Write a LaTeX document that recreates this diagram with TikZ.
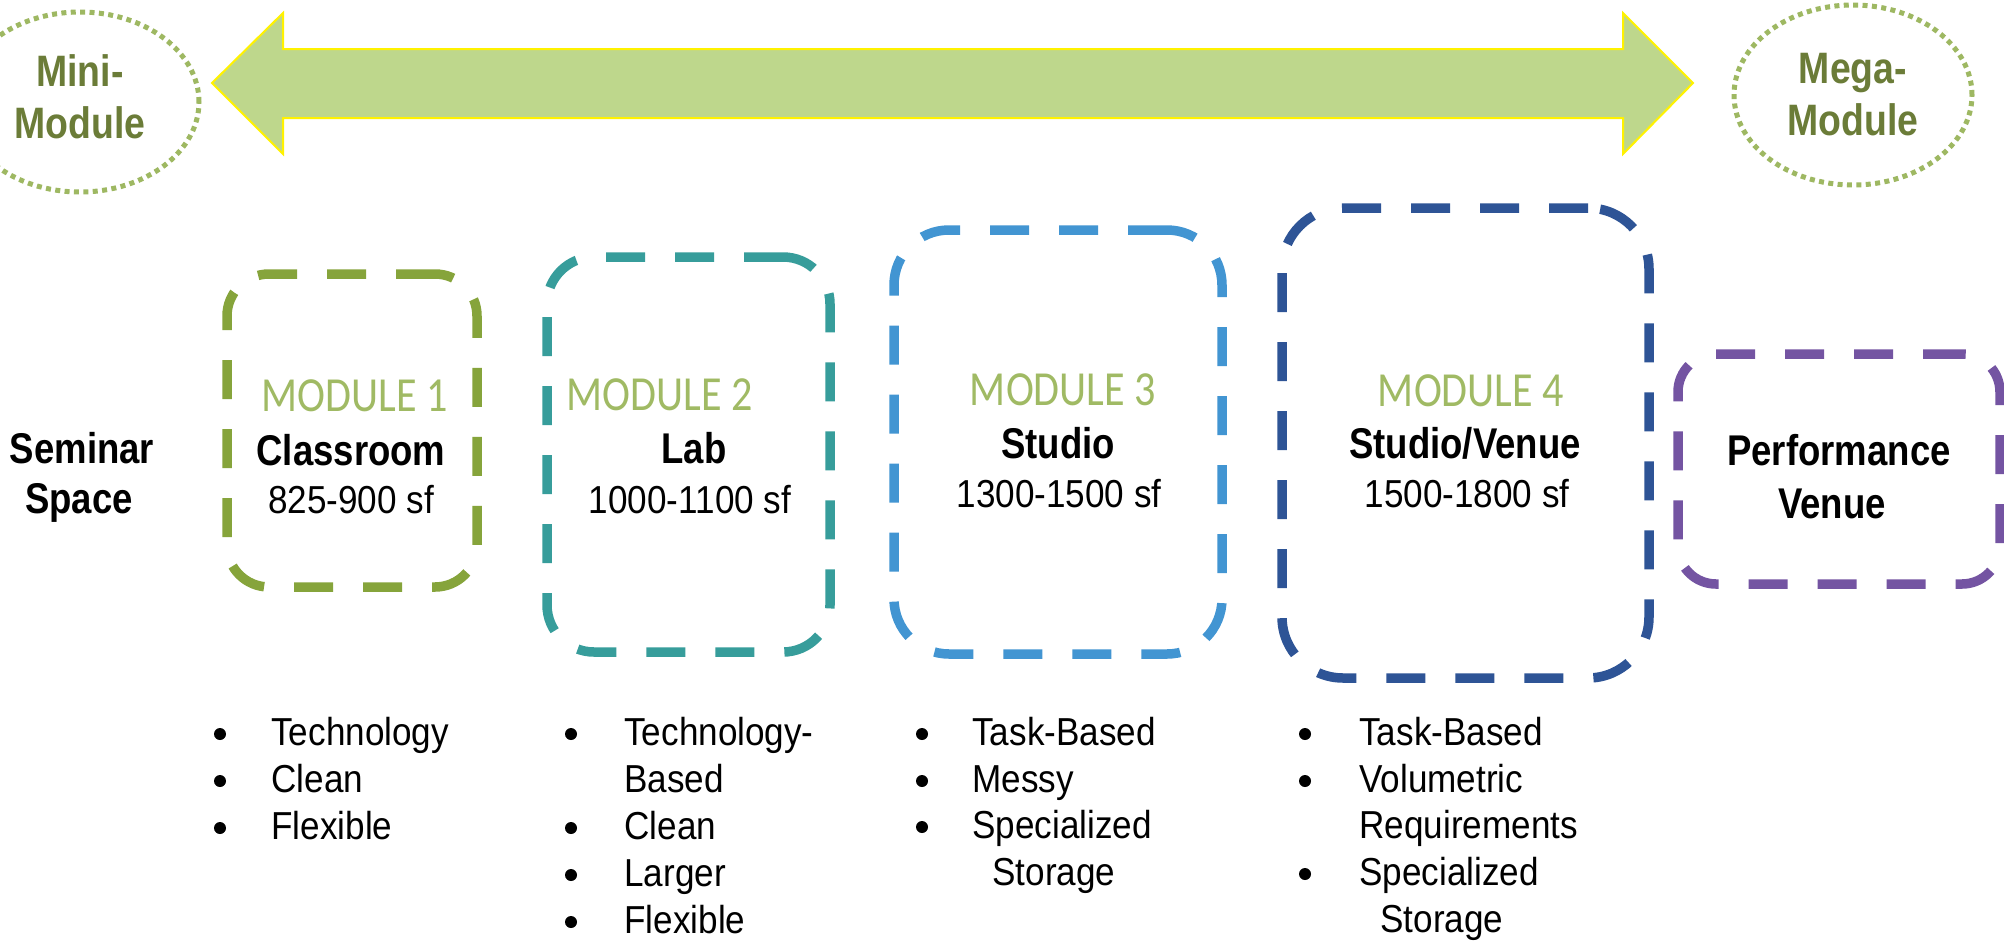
\documentclass[tikz,border=0pt]{standalone}
\usepackage{fontspec}
\usetikzlibrary{shapes.geometric}
\setmainfont{Liberation Sans}
\newfontfamily\regf[FakeStretch=0.9]{Liberation Sans}
\newfontfamily\bldf[FakeStretch=0.85]{Liberation Sans}
\newfontfamily\modf[FakeStretch=0.86]{Carlito}
\definecolor{arrowfill}{RGB}{190,215,140}
\definecolor{dotcol}{RGB}{158,184,98}
\definecolor{minitext}{RGB}{107,124,56}
\definecolor{modlabel}{RGB}{160,186,100}
\definecolor{cone}{RGB}{134,164,59}
\definecolor{ctwo}{RGB}{55,157,155}
\definecolor{cthree}{RGB}{66,149,210}
\definecolor{cfour}{RGB}{46,84,150}
\definecolor{cfive}{RGB}{116,84,162}
\tikzset{
  endcap/.style={ellipse, draw=dotcol, line width=2.5pt, dash pattern=on 2.5pt off 2.2pt, minimum width=119pt, minimum height=90pt, inner sep=0pt},
  endtext/.style={anchor=base, inner sep=0pt, text=minitext, font=\bldf\bfseries\fontsize{22}{26}\selectfont},
  modbox/.style={rectangle, draw=#1, line width=4.75pt, dash pattern=on 19.5pt off 15pt, inner sep=0pt},
  modlab/.style={anchor=base, inner sep=0pt, text=modlabel, font=\modf\fontsize{24.5}{28}\selectfont},
  title/.style={anchor=base, inner sep=0pt, font=\bldf\bfseries\fontsize{21.5}{25}\selectfont},
  area/.style={anchor=base, inner sep=0pt, font=\regf\fontsize{19.5}{23}\selectfont},
  bul/.style={circle, fill=black, inner sep=0pt, minimum size=6pt},
  item/.style={anchor=base west, inner sep=0pt, font=\regf\fontsize{19.5}{23}\selectfont},
}
\begin{document}
\begin{tikzpicture}[x=0.5pt,y=-0.5pt]
\clip (0,0) rectangle (2004,943);
\fill[white] (0,0) rectangle (2004,943);

% scale arrow
\draw[fill=arrowfill, draw=yellow, line width=1pt, line join=miter]
  (212,83) -- (283,13) -- (283,49) -- (1623,49) -- (1623,13) -- (1693,83)
  -- (1623,154) -- (1623,118) -- (283,118) -- (283,154) -- cycle;

% end ellipses
\node[endcap] (mini) at (80,102) {};
\node[endtext] (minia) at (80,86) {Mini-};
\node[endtext] (minib) at (80,138) {Module};
\node[endcap] (mega) at (1853,95) {};
\node[endtext] (megaa) at (1853,83) {Mega-};
\node[endtext] (megab) at (1853,135) {Module};

% seminar
\node[title] (sema) at (82,463) {Seminar};
\node[title] (semb) at (79,513) {Space};

% module boxes
\node[modbox=cone, minimum width=125pt, minimum height=156.5pt, rounded corners=21pt] (box1) at (352,430.5) {};
\node[modlab] (m1) at (355,411) {MODULE 1};
\node[title] (t1) at (351,465) {Classroom};
\node[area] (a1) at (351,513) {825-900 sf};

\node[modbox=ctwo, minimum width=141.5pt, minimum height=197.5pt, rounded corners=23.5pt] (box2) at (688.5,454.5) {};
\node[modlab] (m2) at (660,410) {MODULE 2};
\node[title] (t2) at (694,463) {Lab};
\node[area] (a2) at (690,513) {1000-1100 sf};

\node[modbox=cthree, minimum width=164pt, minimum height=212pt, rounded corners=27.5pt] (box3) at (1058,442) {};
\node[modlab] (m3) at (1063,405) {MODULE 3};
\node[title] (t3) at (1058,458) {Studio};
\node[area] (a3) at (1059,507) {1300-1500 sf};

\node[modbox=cfour, minimum width=183.5pt, minimum height=235pt, rounded corners=30.5pt] (box4) at (1465.5,443) {};
\node[modlab] (m4) at (1471,406) {MODULE 4};
\node[title] (t4) at (1465,458) {Studio/Venue};
\node[area] (a4) at (1467,507) {1500-1800 sf};

\node[modbox=cfive, minimum width=161pt, minimum height=115pt, rounded corners=19pt] (box5) at (1839,469) {};
\node[title] (t5a) at (1839,465) {Performance};
\node[title] (t5b) at (1832,518) {Venue};

% list 1
\node[bul] (b1a) at (220,734) {};
\node[item] (l1a) at (271,745) {Technology};
\node[bul] (b1b) at (220,781) {};
\node[item] (l1b) at (271,792) {Clean};
\node[bul] (b1c) at (220,828) {};
\node[item] (l1c) at (271,839) {Flexible};

% list 2
\node[bul] (b2a) at (571,734) {};
\node[item] (l2a) at (624,745) {Technology-};
\node[item] (l2b) at (624,792) {Based};
\node[bul] (b2c) at (571,828) {};
\node[item] (l2c) at (624,839) {Clean};
\node[bul] (b2d) at (571,875) {};
\node[item] (l2d) at (624,886) {Larger};
\node[bul] (b2e) at (571,922) {};
\node[item] (l2e) at (624,933) {Flexible};

% list 3
\node[bul] (b3a) at (922,734) {};
\node[item] (l3a) at (972,745) {Task-Based};
\node[bul] (b3b) at (922,781) {};
\node[item] (l3b) at (972,792) {Messy};
\node[bul] (b3c) at (922,827) {};
\node[item] (l3c) at (972,838) {Specialized};
\node[item] (l3d) at (992,885) {Storage};

% list 4
\node[bul] (b4a) at (1305,734) {};
\node[item] (l4a) at (1359,745) {Task-Based};
\node[bul] (b4b) at (1305,781) {};
\node[item] (l4b) at (1359,792) {Volumetric};
\node[item] (l4c) at (1359,838) {Requirements};
\node[bul] (b4d) at (1305,874) {};
\node[item] (l4d) at (1359,885) {Specialized};
\node[item] (l4e) at (1380,932) {Storage};
\end{tikzpicture}
\end{document}
